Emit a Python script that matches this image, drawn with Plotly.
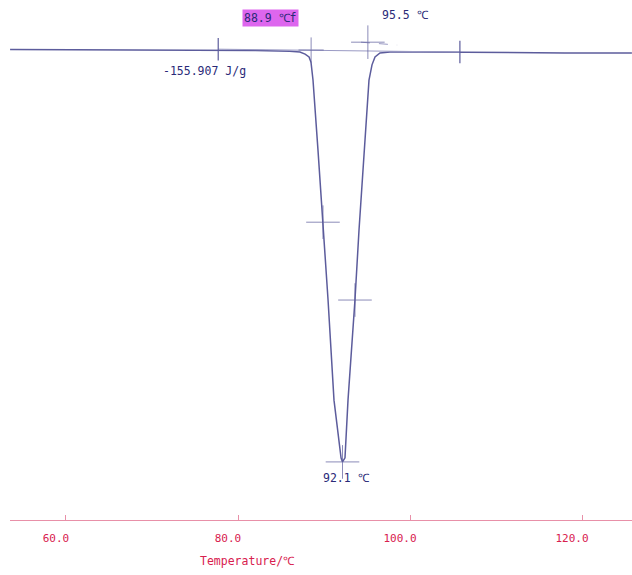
import plotly.graph_objects as go

# DSC curve: temperature (°C) and heat flow (arbitrary units, endotherm down)
temperature = [53.5, 60, 70, 77.7, 82, 86.0, 87.2, 87.8, 88.26, 88.49, 88.6, 88.72, 89.3, 89.88,
               90.47, 91.16, 91.98, 92.15, 92.44, 92.79, 93.2, 93.6, 94.07, 94.65, 95.23,
               95.58, 95.93, 96.51, 97.67, 101.2, 105.8, 110.5, 118, 125.8]
heat_flow = [0.012, 0.01, 0.005, 0.0, -0.01, -0.03, -0.05, -0.10, -0.17, -0.3, -0.45, -0.728, -2.43, -4.18,
             -6.07, -8.5, -9.9, -10.0, -9.9, -8.5, -7.3, -6.07, -4.37, -2.43, -0.73,
             -0.36, -0.17, -0.07, -0.05, -0.05, -0.06, -0.065, -0.07, -0.075]

# integration baseline and end tangent
baseline_t = [77.7, 105.8]
baseline_v = [0.02, -0.05]
tangent_t = [94.3, 98.5]
tangent_v = [0.19, 0.12]

# analysis markers
cross_t = [89.88, 92.15, 93.6, 95.1, 88.5]
cross_v = [-4.18, -10.0, -6.07, 0.19, 0.0]
cross_size = [24, 24, 24, 24, 18]
tick_t = [77.7, 105.8]
tick_v = [0.02, -0.05]

# x-axis ticks
tick_vals = [60, 80, 100, 120]
tick_labels = ["60.0", "80.0", "100.0", "120.0"]

curve_color = "#5c5c9c"
text_color = "#2a2a78"
axis_color = "#e890a8"
label_red = "#d8204e"
font_mono = "DejaVu Sans Mono"

fig = go.Figure()
fig.add_trace(go.Scatter(x=temperature, y=heat_flow, mode="lines",
                         line=dict(color=curve_color, width=1.5),
                         hoverinfo="skip", showlegend=False))
fig.add_trace(go.Scatter(x=baseline_t, y=baseline_v, mode="lines",
                         line=dict(color="#9a9ac4", width=1), showlegend=False))
fig.add_trace(go.Scatter(x=tangent_t, y=tangent_v, mode="lines",
                         line=dict(color="#9a9ac4", width=1, dash="dash"), showlegend=False))
fig.add_trace(go.Scatter(x=cross_t, y=cross_v, mode="markers",
                         marker=dict(symbol="cross-thin", size=cross_size,
                                     line=dict(color=curve_color, width=1)),
                         showlegend=False))
fig.add_trace(go.Scatter(x=tick_t, y=tick_v, mode="markers",
                         marker=dict(symbol="line-ns", size=16,
                                     line=dict(color=curve_color, width=1.2)),
                         showlegend=False))

ann_font = dict(family=font_mono, size=11.5, color=text_color)
fig.add_annotation(x=76.16, y=-0.51, text="-155.907 J/g", showarrow=False, font=ann_font)
fig.add_annotation(x=83.72, y=0.78, text="88.9 ℃f", showarrow=False, font=ann_font,
                   bgcolor="#dd66ee", borderpad=1)
fig.add_annotation(x=99.42, y=0.85, text="95.5 ℃", showarrow=False, font=ann_font)
fig.add_annotation(x=92.56, y=-10.39, text="92.1 ℃", showarrow=False, font=ann_font)
fig.add_annotation(xref="paper", yref="paper", x=(198 - 10) / 622, y=-0.096,
                   text="Temperature/℃", showarrow=False,
                   font=dict(family=font_mono, size=11.5, color=label_red))

fig.update_layout(
    width=632, height=575,
    margin=dict(l=10, r=0, t=0, b=55),
    paper_bgcolor="white", plot_bgcolor="white",
    xaxis=dict(range=[53.49, 125.81], tickvals=tick_vals, ticktext=tick_labels,
               showgrid=False, zeroline=False, showline=True, linecolor=axis_color,
               linewidth=1, ticks="inside", ticklen=5, tickcolor=axis_color,
               tickfont=dict(family=font_mono, size=11, color=label_red),
               ticklabelshift=-10, ticklabelstandoff=8),
    yaxis=dict(range=[-11.41, 1.214], visible=False, showgrid=False, zeroline=False),
)

fig.write_html("out.html", config={"displayModeBar": False},
               post_script="document.body.style.margin='0';")
